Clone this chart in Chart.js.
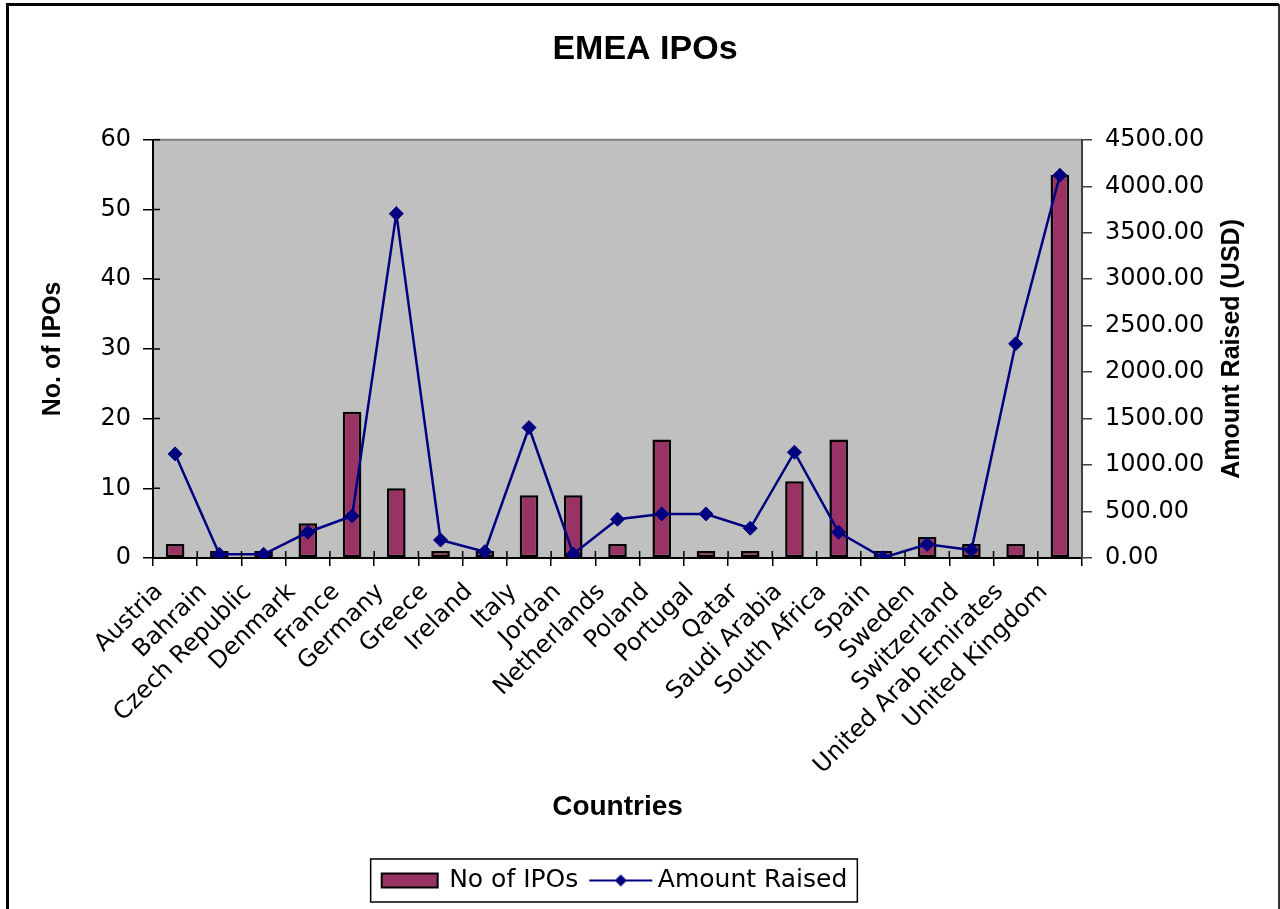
<!DOCTYPE html>
<html>
<head>
<meta charset="utf-8">
<title>EMEA IPOs</title>
<script src="https://cdn.jsdelivr.net/npm/chart.js@4.4.1/dist/chart.umd.min.js"></script>
<style>
  html, body { margin: 0; padding: 0; background: #fff; }
  #wrap { position: relative; width: 1280px; height: 909px; overflow: hidden; }
</style>
</head>
<body>
<div id="wrap"><canvas id="ipoChart" width="1280" height="909"></canvas></div>
<script>
// data
const countries = ['Austria', 'Bahrain', 'Czech Republic', 'Denmark', 'France', 'Germany', 'Greece',
    'Ireland', 'Italy', 'Jordan', 'Netherlands', 'Poland', 'Portugal', 'Qatar', 'Saudi Arabia',
    'South Africa', 'Spain', 'Sweden', 'Switzerland', 'United Arab Emirates', 'United Kingdom'];
const ipoCounts = [2, 1, 1, 5, 21, 10, 1, 1, 9, 9, 2, 17, 1, 1, 11, 17, 1, 3, 2, 2, 55];
const amountRaised = [1120, 40, 40, 277, 452, 3705, 194, 68, 1403, 43, 417, 474, 474, 320, 1138,
    277, 3, 147, 86, 2305, 4118];
const ipoAxis = [0, 60, 10];        // min, max, step
const amountAxis = [0, 4500, 500];  // min, max, step

const barColor = '#993366';
const lineColor = '#000080';
const FONT = '"Liberation Sans", Arial, Helvetica, sans-serif';
const WIDE = '"DejaVu Sans", Verdana, sans-serif';   // the original text is drawn wide

Chart.defaults.font.family = FONT;
Chart.defaults.color = '#000';

function makeSwatch(kind) {
    const c = document.createElement('canvas');
    const g = c.getContext('2d');
    if (kind === 'bar') {
        c.width = 60;
        c.height = 18;
        g.fillStyle = barColor;
        g.fillRect(2, 2, 56, 14);
        g.strokeStyle = '#000';
        g.lineWidth = 2;
        g.strokeRect(2, 2, 56, 14);
    } else {
        c.width = 76;
        c.height = 18;
        g.strokeStyle = lineColor;
        g.lineWidth = 2;
        g.beginPath();
        g.moveTo(9, 9);
        g.lineTo(72, 9);
        g.stroke();
        g.fillStyle = lineColor;
        g.beginPath();
        g.moveTo(40.5, 3);
        g.lineTo(46.5, 9);
        g.lineTo(40.5, 15);
        g.lineTo(34.5, 9);
        g.closePath();
        g.fill();
    }
    return c;
}
const barSwatch = makeSwatch('bar');
const lineSwatch = makeSwatch('line');

// grey plot area, outer frame, right axis title, legend box
const decor = {
    id: 'decor',
    afterLayout(chart) {
        // legend sits a bit left of the title centre in the original
        chart.legend.left -= 30;
        chart.legend.right -= 30;
    },
    beforeDraw(chart) {
        const { ctx, chartArea: a } = chart;
        ctx.save();
        ctx.fillStyle = '#c0c0c0';
        ctx.fillRect(a.left, a.top, a.right - a.left, a.bottom - a.top);
        ctx.strokeStyle = '#808080';
        ctx.lineWidth = 2;
        ctx.beginPath();
        ctx.moveTo(a.left, a.top);
        ctx.lineTo(a.right, a.top);
        ctx.stroke();

        ctx.strokeStyle = '#000';
        ctx.lineWidth = 3;
        ctx.beginPath();
        ctx.moveTo(7.5, 920);
        ctx.lineTo(7.5, 4.5);
        ctx.lineTo(1279, 4.5);
        ctx.stroke();
        ctx.strokeStyle = '#333';
        ctx.lineWidth = 2;
        ctx.beginPath();
        ctx.moveTo(1279, 4);
        ctx.lineTo(1279, 920);
        ctx.stroke();
        ctx.restore();
    },
    afterDraw(chart) {
        const { ctx, chartArea: a, scales } = chart;
        ctx.save();
        // inner halves of the tick marks
        ctx.strokeStyle = '#000';
        ctx.lineWidth = 1.5;
        ctx.beginPath();
        scales.y.ticks.forEach(t => {
            const py = scales.y.getPixelForValue(t.value);
            ctx.moveTo(a.left, py);
            ctx.lineTo(a.left + 7, py);
        });
        const step = (a.right - a.left) / countries.length;
        for (let i = 1; i < countries.length; i++) {
            const px = scales.x.getPixelForValue(i) - step / 2;
            ctx.moveTo(px, a.bottom);
            ctx.lineTo(px, a.bottom - 7);
        }
        ctx.stroke();

        // right axis title reads bottom-up
        ctx.fillStyle = '#000';
        ctx.font = 'bold 25px ' + FONT;
        ctx.textAlign = 'center';
        ctx.textBaseline = 'middle';
        ctx.translate(1232, (a.top + a.bottom) / 2);
        ctx.rotate(-Math.PI / 2);
        ctx.fillText('Amount Raised (USD)', 0, 0);
        ctx.restore();

        // box around the legend
        const boxes = chart.legend.legendHitBoxes;
        if (boxes && boxes.length) {
            const l = Math.min(...boxes.map(b => b.left)) - 12;
            const rr = Math.max(...boxes.map(b => b.left + b.width)) + 10;
            const t = Math.min(...boxes.map(b => b.top)) - 9;
            const bt = Math.max(...boxes.map(b => b.top + b.height)) + 9;
            ctx.save();
            ctx.strokeStyle = '#000';
            ctx.lineWidth = 1.5;
            ctx.strokeRect(l, t, rr - l, bt - t);
            ctx.restore();
        }
    }
};

new Chart(document.getElementById('ipoChart'), {
    type: 'bar',
    data: {
        labels: countries,
        datasets: [
            {
                label: 'No of IPOs',
                data: ipoCounts,
                backgroundColor: barColor,
                borderColor: '#000',
                borderWidth: 2.5,
                borderSkipped: false,
                categoryPercentage: 1,
                barPercentage: 0.42,
                yAxisID: 'y',
                order: 1
            },
            {
                type: 'line',
                label: 'Amount Raised',
                data: amountRaised,
                borderColor: lineColor,
                borderWidth: 2.5,
                backgroundColor: lineColor,
                pointStyle: 'rectRot',
                pointRadius: 7,
                pointBackgroundColor: lineColor,
                pointBorderColor: lineColor,
                pointBorderWidth: 1,
                tension: 0,
                yAxisID: 'y1',
                order: 0
            }
        ]
    },
    options: {
        responsive: false,
        animation: false,
        layout: { padding: { left: 10, right: 0, top: 0, bottom: 6 } },
        plugins: {
            title: {
                display: true,
                text: 'EMEA IPOs',
                font: { size: 34, weight: 'bold' },
                color: '#000',
                padding: { top: 29, bottom: 70 }
            },
            legend: {
                position: 'bottom',
                labels: {
                    usePointStyle: true,
                    pointStyleWidth: 54,
                    padding: 13,
                    font: { size: 25, family: WIDE },
                    color: '#000',
                    generateLabels(chart) {
                        const items = Chart.defaults.plugins.legend.labels.generateLabels(chart);
                        items.forEach(it => {
                            it.pointStyle = it.datasetIndex === 0 ? barSwatch : lineSwatch;
                        });
                        return items.sort((p, q) => p.datasetIndex - q.datasetIndex);
                    }
                }
            },
            tooltip: { enabled: false }
        },
        scales: {
            x: {
                grid: { display: true, drawOnChartArea: false, tickLength: 8, color: '#000', lineWidth: 1.5, offset: true },
                border: { color: '#000', width: 2 },
                ticks: {
                    minRotation: 45,
                    maxRotation: 45,
                    autoSkip: false,
                    font: { size: 24, family: WIDE },
                    color: '#000',
                    padding: 12,
                    labelOffset: -16
                },
                title: {
                    display: true,
                    text: 'Countries',
                    font: { size: 28, weight: 'bold' },
                    color: '#000',
                    padding: { top: 0, bottom: 31 }
                },
                afterFit(s) { s.height = 297; }
            },
            y: {
                position: 'left',
                min: ipoAxis[0],
                max: ipoAxis[1],
                grid: { drawOnChartArea: false, tickLength: 10, color: '#000', lineWidth: 1.5 },
                border: { color: '#000', width: 2 },
                ticks: { stepSize: ipoAxis[2], font: { size: 24, family: WIDE }, color: '#000', padding: 12 },
                title: {
                    display: true,
                    text: 'No. of IPOs',
                    font: { size: 25, weight: 'bold' },
                    color: '#000',
                    padding: { top: 28, bottom: 0 }
                },
                afterFit(s) { s.width = 143; }
            },
            y1: {
                position: 'right',
                min: amountAxis[0],
                max: amountAxis[1],
                grid: { drawOnChartArea: false, tickLength: 10, color: '#404040', lineWidth: 1.5 },
                border: { color: '#404040', width: 2 },
                ticks: {
                    stepSize: amountAxis[2],
                    font: { size: 24, family: WIDE },
                    color: '#000',
                    padding: 13,
                    callback: v => Number(v).toFixed(2)
                },
                afterFit(s) { s.width = 198; }
            }
        }
    },
    plugins: [decor]
});
</script>
</body>
</html>
